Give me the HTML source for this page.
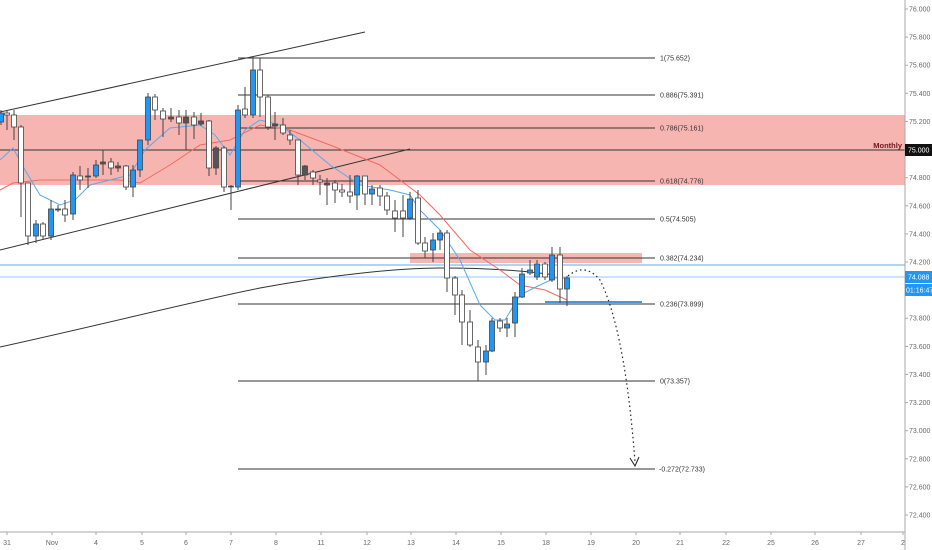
<!DOCTYPE html><html><head><style>body{margin:0;background:#fff}svg{display:block;font-family:"Liberation Sans",sans-serif}</style></head><body>
<svg id="s" width="932" height="550" xmlns="http://www.w3.org/2000/svg">
<rect width="932" height="550" fill="#fff"/>
<rect x="0" y="115" width="905" height="70" fill="#f7b5b1"/>
<rect x="410" y="253" width="232" height="10" fill="#f4a5a0" opacity="0.8"/>
<line x1="0" y1="150" x2="905" y2="150" stroke="#333" stroke-width="1"/>
<line x1="0" y1="265" x2="905" y2="265" stroke="#90c8f5" stroke-width="1.5"/>
<line x1="0" y1="277" x2="905" y2="277" stroke="#6fb6f0" stroke-width="0.8"/>
<line x1="545" y1="302" x2="642" y2="302" stroke="#4a95e0" stroke-width="2"/>
<g stroke="#333" stroke-width="1" id="fib"></g>
<g font-size="7" fill="#333" id="fibt"></g>
<line x1="0" y1="112" x2="365" y2="32" stroke="#333"/>
<line x1="0" y1="250" x2="410" y2="149" stroke="#333"/>
<path fill="none" stroke="#333" stroke-width="1" d="M0,347 C100,325 200,300 260,288 C330,275 400,268 440,268 C480,268 520,270 555,275"/>
<polyline fill="none" stroke="#ef6b5f" stroke-width="1" points="0,190 13,183 40,180 120,180 140,183 170,165 200,145 230,140 260,125 290,130 330,145 380,165 420,195 440,215 470,250 500,270 520,285 545,290 567,300"/>
<polyline fill="none" stroke="#5aa8ef" stroke-width="1" points="0,160 13,148 25,170 40,195 60,205 75,200 90,185 110,180 130,175 145,150 170,128 200,125 215,135 230,155 245,130 260,120 280,125 300,140 330,165 360,185 390,190 410,195 420,210 440,230 460,260 480,305 495,320 505,320 520,295 540,285 555,278 567,278"/>
<g id="c"></g>
<path d="M568,276 Q585,262 600,280 Q625,330 635,462" fill="none" stroke="#222" stroke-width="1.2" stroke-dasharray="1.5,3"/>
<path d="M630,458 L635,466 L639,457" fill="none" stroke="#222" stroke-width="1"/>
<line x1="905" y1="0" x2="905" y2="550" stroke="#aaa"/>
<line x1="0" y1="532" x2="905" y2="532" stroke="#aaa"/>
<g id="ax" font-size="7" fill="#666"></g>
<text x="902" y="148" font-size="7.5" font-weight="bold" fill="#6a1a1a" text-anchor="end">Monthly</text>
<rect x="905" y="144" width="27" height="12" fill="#111"/><text x="908" y="152.5" font-size="7" fill="#fff">75.000</text>
<rect x="905" y="271" width="27" height="12" fill="#2196f3"/><text x="908" y="279.5" font-size="7" fill="#fff">74.088</text>
<rect x="905" y="284" width="27" height="12" fill="#2196f3"/><text x="906" y="292.5" font-size="7" fill="#fff">01:16:47</text>
</svg>
<script>
var N="http://www.w3.org/2000/svg";
function el(p,t,a,tx){var e=document.createElementNS(N,t);for(var k in a)e.setAttribute(k,a[k]);if(tx)e.textContent=tx;document.getElementById(p).appendChild(e);}
[[58,"1(75.652)"],[95,"0.886(75.391)"],[128,"0.786(75.161)"],[181,"0.618(74.776)"],[219,"0.5(74.505)"],[258,"0.382(74.234)"],[304,"0.236(73.899)"],[381,"0(73.357)"],[469,"-0.272(72.733)"]].forEach(function(f){el("fib","line",{x1:238,y1:f[0],x2:655,y2:f[0]});el("fibt","text",{x:f[1][0]=="-"?659:660,y:f[0]+2.5},f[1]);});
for(var i=0;i<19;i++){var p=76-i*0.2,y=9+(76-p)*140.56;if(Math.abs(p-75)<0.01)continue;el("ax","text",{x:909,y:y+2.5},p.toFixed(3));el("ax","line",{x1:905,y1:y,x2:908,y2:y,stroke:"#aaa"});}
[[7,"31"],[52,"Nov"],[96,"4"],[142,"5"],[186,"6"],[231,"7"],[276,"8"],[321,"11"],[367,"12"],[411,"13"],[456,"14"],[501,"15"],[546,"18"],[591,"19"],[636,"20"],[680,"21"],[726,"22"],[771,"25"],[815,"26"],[861,"27"],[903,"2"]].forEach(function(t){el("ax","text",{x:t[0],y:545,"text-anchor":"middle"},t[1]);el("ax","line",{x1:t[0],y1:532,x2:t[0],y2:535,stroke:"#aaa"});});
var C=[[1,113,122,110,125,"b"],[7,113,115,110,130,"w"],[14,115,127,110,140,"w"],[21,127,183,125,217,"w"],[28,183,236,183,245,"w"],[36,224,236,220,243,"b"],[43,224,236,222,240,"w"],[51,209,236,200,240,"b"],[58,209,210,205,212,"d"],[65,209,215,200,222,"w"],[73,175,214,172,220,"b"],[80,176,180,166,190,"w"],[88,176,177,168,188,"d"],[96,165,176,160,178,"b"],[103,162,164,150,175,"d"],[111,162,168,158,175,"w"],[118,166,168,162,172,"d"],[126,166,187,165,190,"w"],[133,170,187,165,197,"b"],[140,140,170,140,177,"b"],[148,97,140,93,145,"b"],[155,97,110,94,120,"w"],[163,111,119,108,137,"w"],[171,117,119,108,122,"d"],[179,117,123,110,135,"w"],[186,117,123,110,150,"d"],[194,117,125,112,139,"w"],[201,121,124,113,126,"d"],[209,121,168,120,176,"w"],[216,148,168,146,175,"d"],[224,148,187,146,192,"w"],[231,186,187,185,210,"d"],[238,110,187,105,190,"b"],[245,109,115,87,118,"w"],[253,70,115,57,118,"b"],[260,70,97,58,117,"w"],[268,97,127,95,130,"w"],[275,124,126,112,140,"d"],[283,125,133,118,135,"w"],[290,135,140,130,145,"w"],[298,140,175,140,185,"w"],[305,166,175,165,180,"d"],[313,172,178,170,185,"w"],[320,180,182,175,195,"w"],[327,183,185,178,205,"d"],[335,183,190,180,203,"w"],[342,190,192,184,197,"w"],[350,192,196,175,203,"w"],[357,176,195,175,210,"b"],[365,176,194,176,205,"w"],[372,189,194,185,205,"b"],[380,188,196,185,206,"w"],[387,196,210,192,215,"w"],[395,211,218,200,232,"w"],[403,211,218,195,237,"w"],[410,199,218,192,220,"b"],[418,198,243,190,245,"w"],[425,243,251,237,258,"w"],[433,240,250,233,262,"b"],[440,233,240,230,250,"b"],[447,233,278,230,292,"w"],[455,278,295,276,315,"w"],[462,295,322,290,345,"w"],[470,322,345,310,347,"w"],[478,347,362,340,381,"w"],[486,351,362,345,375,"b"],[492,321,351,318,352,"b"],[500,321,328,318,332,"w"],[507,324,328,318,337,"b"],[515,297,323,292,337,"b"],[522,274,297,268,298,"b"],[530,270,273,260,275,"b"],[537,264,277,260,280,"b"],[545,264,277,262,280,"w"],[552,255,280,247,282,"b"],[560,255,289,247,303,"w"],[567,278,289,276,306,"b"]];
C.forEach(function(c){el("c","line",{x1:c[0],y1:c[3],x2:c[0],y2:c[4],stroke:"#444","stroke-width":1});var f=c[5]=="b"?"#2196f3":c[5]=="d"?"#555":"#fff";el("c","rect",{x:c[0]-2.5,y:c[1],width:5,height:Math.max(1,c[2]-c[1]),fill:f,stroke:"#444","stroke-width":0.8});});
</script>
</body></html>
